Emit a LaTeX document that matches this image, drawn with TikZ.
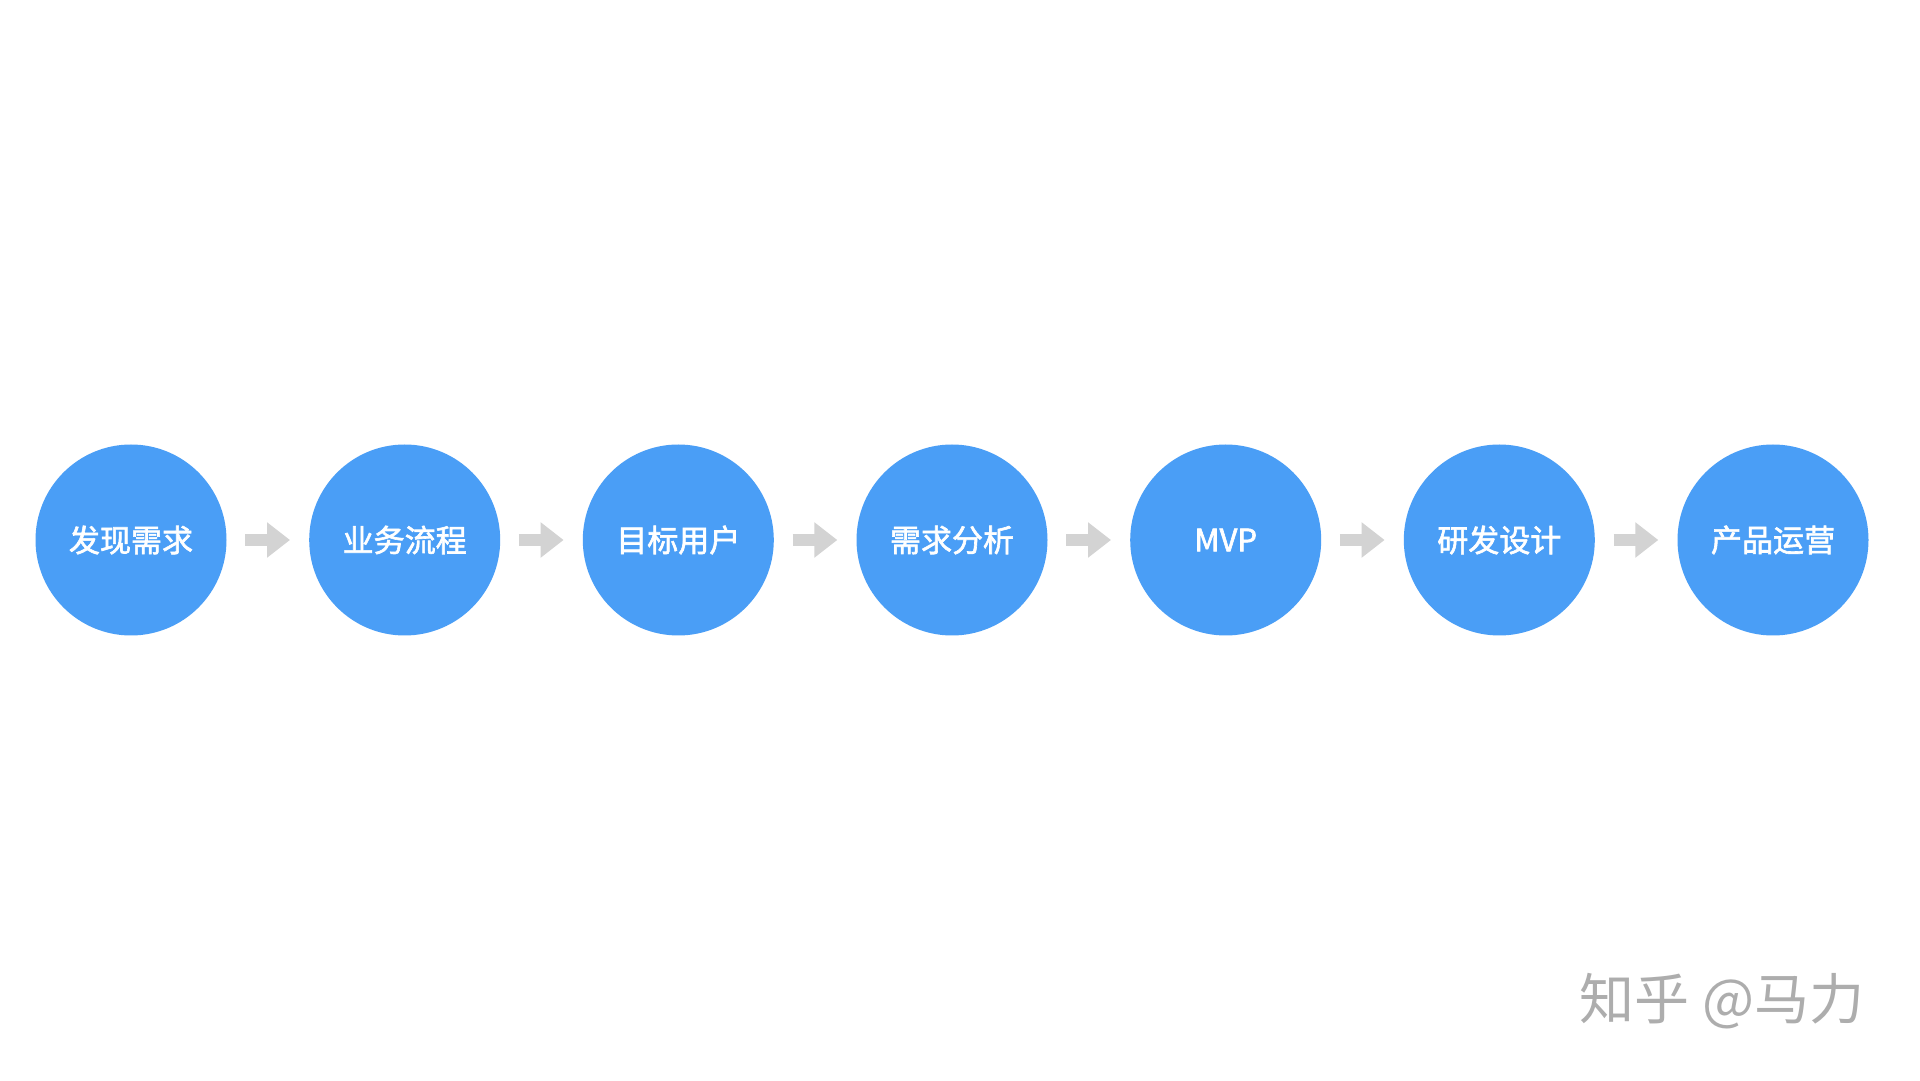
\documentclass[tikz,border=0pt]{standalone}
\usepackage{fontspec}
\setmainfont{Noto Sans CJK SC}
\newfontfamily\cjk{Noto Sans CJK SC}
\newfontfamily\cjkmed{Noto Sans CJK SC}[FakeBold=2]
\usetikzlibrary{arrows.meta}
\definecolor{stepblue}{HTML}{4A9EF6}
\definecolor{arrowgrey}{HTML}{D3D3D3}
\definecolor{markgrey}{HTML}{ADADAD}
\tikzset{
  stage/.style={circle, fill=stepblue, draw=none, minimum size=191pt, inner sep=0pt,
    text=white, font=\cjkmed\fontsize{31}{31}\selectfont},
  flow/.style={draw=arrowgrey, line width=12pt, shorten <=18.5pt, shorten >=19pt,
    -{Triangle[width=34pt,length=23pt]}},
}
\begin{document}
\begin{tikzpicture}[x=1pt,y=1pt]
\useasboundingbox (0,0) rectangle (1920,1080);
\fill[white] (0,0) rectangle (1920,1080);
\node[stage] (s1) at (131,540) {发现需求};
\node[stage] (s2) at (404.7,540) {业务流程};
\node[stage] (s3) at (678.3,540) {目标用户};
\node[stage] (s4) at (952,540) {需求分析};
\node[stage] (s5) at (1225.7,540) {MVP};
\node[stage] (s6) at (1499.3,540) {研发设计};
\node[stage] (s7) at (1773,540) {产品运营};
\foreach \a/\b in {s1/s2,s2/s3,s3/s4,s4/s5,s5/s6,s6/s7}
  \draw[flow] (\a.east) -- (\b.west);
\node[text=markgrey, font=\cjk\fontsize{55}{55}\selectfont, anchor=center] (mark) at (1722,79) {知乎 @马力};
\end{tikzpicture}
\end{document}
